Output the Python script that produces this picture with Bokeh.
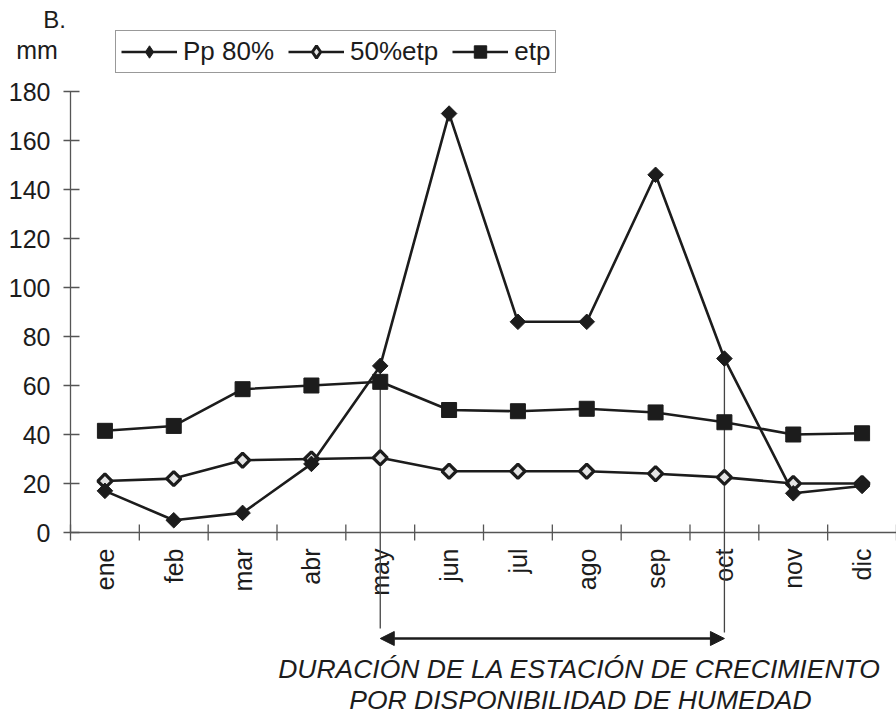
import numpy as np
from bokeh.plotting import figure
from bokeh.models import (Label, Arrow, NormalHead, Legend, LegendItem,
                          ColumnDataSource, Range1d)
from bokeh.embed import file_html
from bokeh.resources import INLINE

months = ["ene", "feb", "mar", "abr", "may", "jun", "jul", "ago", "sep", "oct", "nov", "dic"]
pp80 = [17, 5, 8, 28, 68, 171, 86, 86, 146, 71, 16, 19]
etp50 = [21, 22, 29.5, 30, 30.5, 25, 25, 25, 24, 22.5, 20, 20]
etp = [41.5, 43.5, 58.5, 60, 61.5, 50, 49.5, 50.5, 49, 45, 40, 40.5]
y_ticks = [0, 20, 40, 60, 80, 100, 120, 140, 160, 180]
season_start = "may"
season_end = "oct"

W, H = 896, 717
FRAME_L, FRAME_T, FRAME_B = 70, 91, 532          # pixel positions of the data area
n = len(months)
xpx = (W - FRAME_L) / n                          # px per category
ypx = (FRAME_B - FRAME_T) / (y_ticks[-1] - y_ticks[0])  # px per mm
x_lo = -0.5 - FRAME_L / xpx
x_hi = n - 0.5
y_hi = y_ticks[-1] + FRAME_T / ypx
y_lo = -(H - FRAME_B) / ypx


def px_x(px):
    return x_lo + px / xpx


def px_y(py):
    return y_hi - py / ypx


FONT = "Liberation Sans"
INK = "#1c1c1c"
AX = "#555555"

p = figure(width=W, height=H, output_backend="svg", toolbar_location=None,
           x_range=Range1d(x_lo, x_hi), y_range=Range1d(y_lo, y_hi),
           min_border=0)
p.axis.visible = False
p.grid.visible = False
p.outline_line_color = None
p.background_fill_color = "white"

x = list(range(n))
x_left = -0.5

# ---- y axis ----
p.segment(x0=[x_left], y0=[y_ticks[0]], x1=[x_left], y1=[y_ticks[-1]],
          line_color=AX, line_width=1.3)
p.segment(x0=[x_left - 7 / xpx] * len(y_ticks), y0=y_ticks,
          x1=[x_left + 9 / xpx] * len(y_ticks), y1=y_ticks,
          line_color=AX, line_width=1.3)
p.text(x=[x_left - 20 / xpx] * len(y_ticks), y=y_ticks, text=[str(t) for t in y_ticks],
       text_align="right", text_baseline="middle", text_font_size="25px",
       text_color=INK, text_font={"value": FONT})

# ---- x axis ----
edges = [i - 0.5 for i in range(n + 1)]
p.segment(x0=[edges[0]], y0=[0], x1=[edges[-1]], y1=[0], line_color=AX, line_width=1.3)
p.segment(x0=edges, y0=[-8 / ypx] * len(edges), x1=edges, y1=[8 / ypx] * len(edges),
          line_color=AX, line_width=1.3)
p.text(x=x, y=[-16 / ypx] * n, text=months, angle=np.pi / 2,
       text_align="right", text_baseline="middle", text_font_size="25px",
       text_color=INK, text_font={"value": FONT})

# ---- growing season guide lines ----
i0, i1 = months.index(season_start), months.index(season_end)
p.segment(x0=[i0, i1], y0=[pp80[i0], pp80[i1]], x1=[i0, i1],
          y1=[px_y(628), px_y(632)], line_color="#444444", line_width=1.3)

# ---- series ----
src = ColumnDataSource(dict(x=x, pp80=pp80, etp50=etp50, etp=etp))
l3 = p.line("x", "etp", source=src, line_color=INK, line_width=2.6)
m3 = p.scatter("x", "etp", source=src, marker="square", size=15,
               fill_color=INK, line_color=INK)
l2 = p.line("x", "etp50", source=src, line_color=INK, line_width=2.6)
m2 = p.scatter("x", "etp50", source=src, marker="square", angle=np.pi / 4, size=10,
               fill_color="#e4e4e4", line_color=INK, line_width=3.2)
l1 = p.line("x", "pp80", source=src, line_color=INK, line_width=2.6)
m1 = p.scatter("x", "pp80", source=src, marker="square", angle=np.pi / 4, size=11,
               fill_color=INK, line_color=INK)

# legend-only marker glyphs (diamonds drawn upright in the legend)
lg1 = p.scatter(x=[np.nan], y=[np.nan], marker="diamond", size=21,
                fill_color=INK, line_color=INK)
lg2 = p.scatter(x=[np.nan], y=[np.nan], marker="diamond", size=20,
                fill_color="#e4e4e4", line_color=INK, line_width=3)
lg3 = p.scatter(x=[np.nan], y=[np.nan], marker="square", size=15,
                fill_color=INK, line_color=INK)

legend = Legend(items=[LegendItem(label="Pp 80%", renderers=[l1, lg1]),
                       LegendItem(label="50%etp", renderers=[l2, lg2]),
                       LegendItem(label="etp", renderers=[l3, lg3])],
                orientation="horizontal", location=(115, H - 73),
                label_text_font=FONT, label_text_font_size="26px", label_text_color=INK,
                glyph_width=56, glyph_height=31, label_standoff=6, spacing=14,
                padding=5, margin=0, border_line_color="#333333", border_line_width=1.5,
                background_fill_alpha=1)
p.add_layout(legend, "center")

# ---- arrow for growing season ----
p.add_layout(Arrow(start=NormalHead(size=14, fill_color=INK, line_color=INK),
                   end=NormalHead(size=14, fill_color=INK, line_color=INK),
                   x_start=i0, y_start=px_y(638), x_end=i1, y_end=px_y(638),
                   line_color=INK, line_width=2.6))

# ---- texts ----
p.add_layout(Label(x=px_x(54), y=px_y(32), text="B.", text_font=FONT,
                   text_font_size="24px", text_align="center", text_color=INK))
p.add_layout(Label(x=px_x(36.5), y=px_y(63), text="mm", text_font=FONT,
                   text_font_size="25px", text_align="center", text_color=INK))
p.add_layout(Label(x=px_x(579), y=px_y(683), text="DURACIÓN DE LA ESTACIÓN DE CRECIMIENTO",
                   text_font=FONT, text_font_size="26.5px", text_font_style="italic",
                   text_align="center", text_color=INK))
p.add_layout(Label(x=px_x(580), y=px_y(714), text="POR DISPONIBILIDAD DE HUMEDAD",
                   text_font=FONT, text_font_size="26.5px", text_font_style="italic",
                   text_align="center", text_color=INK))

open("out.html", "w").write(file_html(p, INLINE))
